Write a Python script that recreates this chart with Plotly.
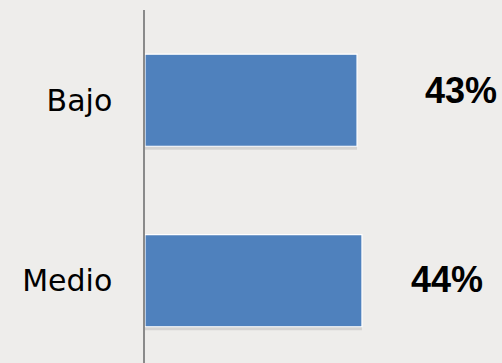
import plotly.graph_objects as go

categories = ["Bajo", "Medio"]
values = [43, 44]
value_labels = ["43%", "44%"]

BAR_COLOR = "#4f81bd"

fig = go.Figure()

# subtle drop shadow beneath each bar
fig.add_trace(go.Bar(
    y=categories, x=values, orientation="h",
    width=0.51, offset=-0.255 + 0.02,
    marker=dict(color="rgba(0,0,0,0.10)", line=dict(width=0)),
    hoverinfo="skip", showlegend=False,
))
fig.add_trace(go.Bar(
    y=categories, x=values, orientation="h",
    width=0.51, offset=-0.255,
    marker=dict(color=BAR_COLOR, line=dict(color="#ffffff", width=1.2)),
    showlegend=False,
))

label_pos = [(0.885, 90), (0.845, 279)]
for txt, (px, py) in zip(value_labels, label_pos):
    fig.add_annotation(
        xref="paper", yref="paper", x=px, y=1 - (py - 10) / 353,
        text="<b>%s</b>" % txt, showarrow=False,
        font=dict(family="Liberation Sans, Arial, sans-serif", size=36, color="#000000"),
        xanchor="center", yanchor="middle",
    )

fig.update_layout(
    width=502, height=363,
    margin=dict(l=145, r=0, t=10, b=0),
    paper_bgcolor="#eeedeb", plot_bgcolor="rgba(0,0,0,0)",
    barmode="overlay",
    showlegend=False,
    xaxis=dict(range=[0, 72.4], visible=False, showgrid=False, zeroline=False),
    yaxis=dict(
        range=[1.456, -0.5], showgrid=False, zeroline=False,
        showline=True, linecolor="#8a8a8a", linewidth=1.5,
        ticks="", ticklabelstandoff=25,
        tickfont=dict(family="DejaVu Sans, sans-serif", size=30, color="#000000"),
    ),
)

fig.write_html(
    "out.html",
    config={"displayModeBar": False},
    post_script="document.body.style.margin='0';document.body.style.background='#eeedeb';",
)
